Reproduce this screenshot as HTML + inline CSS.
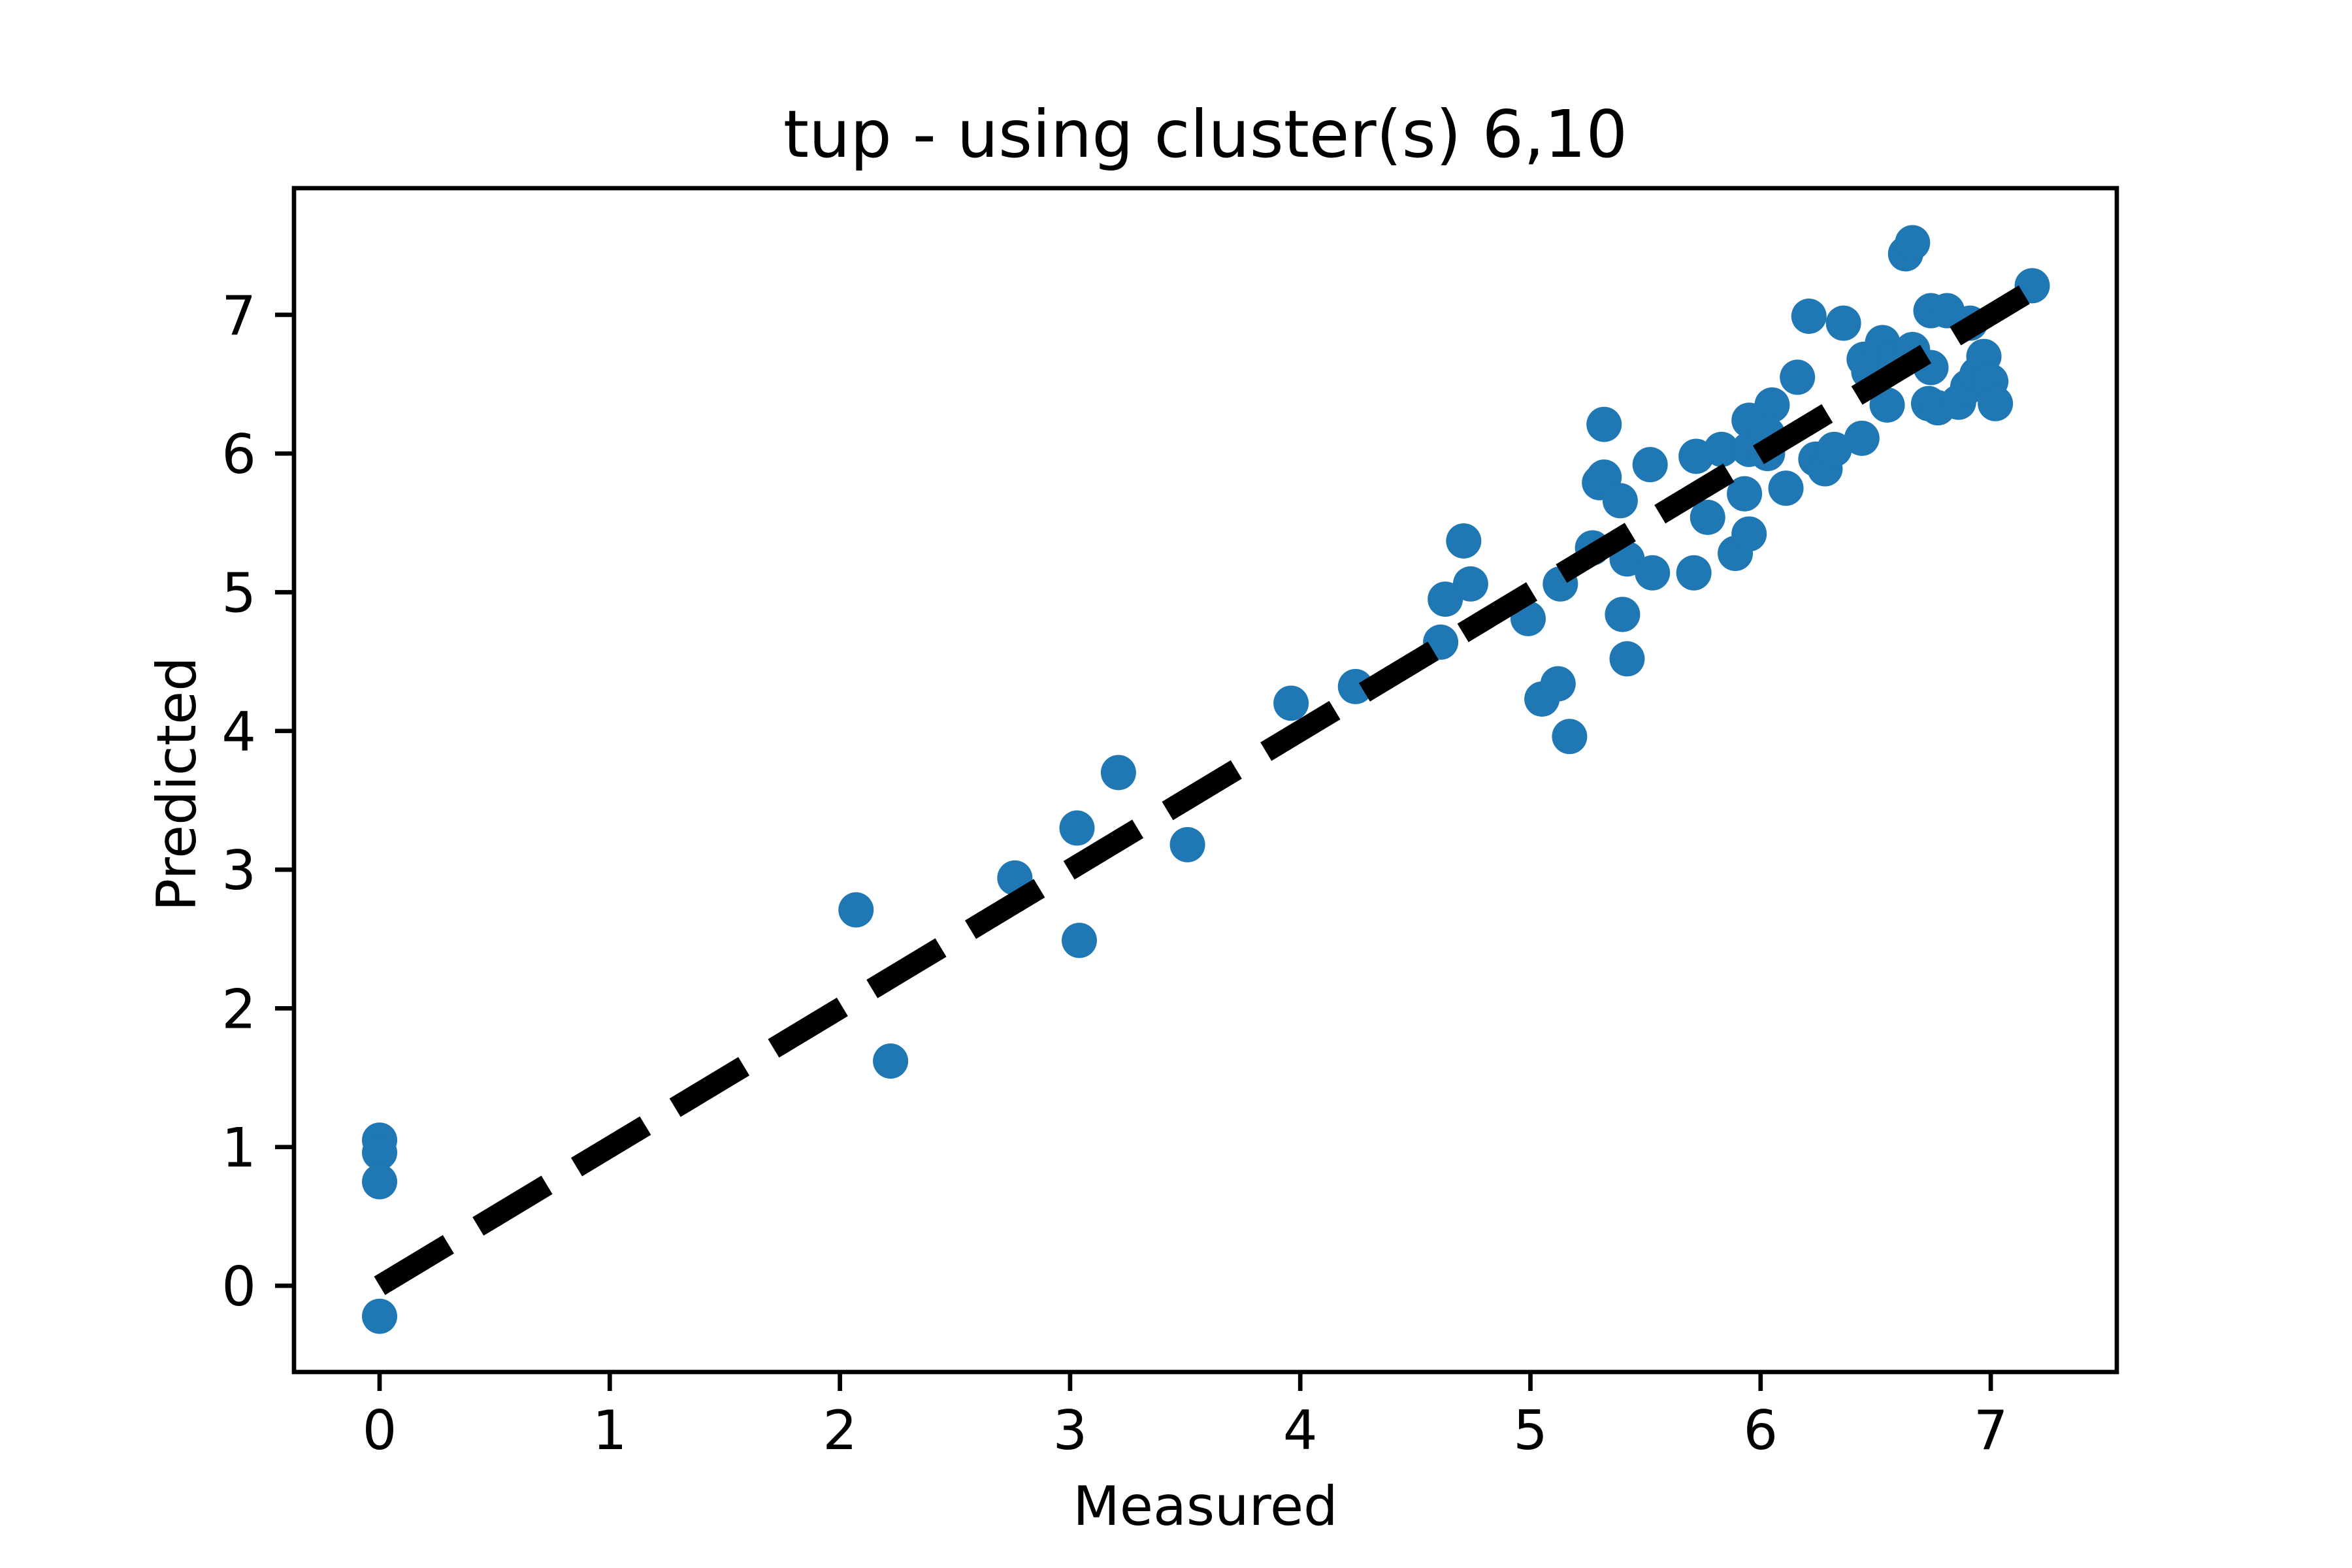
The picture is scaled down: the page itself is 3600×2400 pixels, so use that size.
<!DOCTYPE html>
<html><head><meta charset="utf-8"><style>
html,body{margin:0;padding:0;background:#fff}
svg{display:block}
text{font-family:"DejaVu Sans","Liberation Sans",sans-serif;fill:#000}
</style></head><body>
<svg id="chart" width="3600" height="2400" viewBox="0 0 3600 2400" xmlns="http://www.w3.org/2000/svg">
<rect x="0" y="0" width="3600" height="2400" fill="#fff"/>
<text x="1845" y="240" font-size="100" text-anchor="middle">tup - using cluster(s) 6,10</text>
<g id="plot"></g>
<g id="axes"></g>
<text x="1845" y="2334" font-size="83" text-anchor="middle">Measured</text>
<text x="0" y="0" font-size="83" text-anchor="middle" transform="translate(299,1200) rotate(-90)">Predicted</text>
</svg>
<script>
const measured = [0,0,0,0,2.07,2.22,2.76,3.03,3.04,3.21,3.51,3.96,4.24,4.61,4.63,4.71,4.74,4.99,5.05,5.12,5.13,5.17,5.27,5.30,5.32,5.32,5.39,5.40,5.42,5.42,5.53,5.52,5.71,5.72,5.77,5.83,5.89,5.93,5.95,5.95,5.95,6.03,6.05,6.03,6.11,6.16,6.21,6.24,6.28,6.32,6.36,6.44,6.45,6.47,6.53,6.55,6.58,6.63,6.66,6.66,6.74,6.74,6.73,6.77,6.81,6.86,6.90,6.91,6.94,6.97,7.00,7.02,7.18];
const predicted = [1.05,0.96,0.75,-0.22,2.71,1.62,2.94,3.30,2.49,3.70,3.18,4.20,4.32,4.64,4.95,5.37,5.06,4.81,4.23,4.34,5.06,3.96,5.32,5.79,5.83,6.21,5.66,4.84,5.24,4.52,5.14,5.92,5.14,5.98,5.54,6.03,5.28,5.71,5.42,6.24,6.03,6.00,6.35,6.14,5.75,6.55,6.99,5.96,5.89,6.03,6.94,6.11,6.68,6.59,6.80,6.35,6.68,7.44,7.52,6.75,7.03,6.62,6.36,6.33,7.03,6.37,6.48,6.94,6.57,6.70,6.52,6.36,7.21];
const xTicks = [0,1,2,3,4,5,6,7];
const yTicks = [0,1,2,3,4,5,6,7];
const lineStart = 0;
const lineEnd = 7.18;

const NS = "http://www.w3.org/2000/svg";
const L = 450, R = 3240, T = 288, B = 2100;
function xs(v){ return 581 + v * 352.3; }
function ys(v){ return 1968 - v * 212.3; }
function mk(tag, attrs, parent){
  const e = document.createElementNS(NS, tag);
  for (const k in attrs) e.setAttribute(k, attrs[k]);
  parent.appendChild(e);
  return e;
}
const plot = document.getElementById('plot');
const axes = document.getElementById('axes');

for (let i = 0; i < measured.length; i++){
  const c = mk('circle', {cx: xs(measured[i]), cy: ys(predicted[i]), r: 27, fill: '#1f77b4'}, plot);
  
  
}
const ln = mk('line', {x1: xs(lineStart), y1: ys(lineStart), x2: xs(lineEnd), y2: ys(lineEnd), stroke: '#000', 'stroke-width': 33, 'stroke-dasharray': '123 53', 'stroke-linecap': 'butt'}, plot);



const frame = mk('rect', {x: L, y: T, width: R - L, height: B - T, fill: 'none', stroke: '#000', 'stroke-width': 6.7}, axes);



xTicks.forEach(v => {
  const x = xs(v);
  const t = mk('line', {x1: x, y1: B, x2: x, y2: B + 29, stroke: '#000', 'stroke-width': 6.7}, axes);
  
  
  const lb = mk('text', {x: x, y: B + 118, 'font-size': 83, 'text-anchor': 'middle'}, axes);
  lb.textContent = String(v);
  
  
});
yTicks.forEach(v => {
  const y = ys(v);
  const t = mk('line', {x1: L - 29, y1: y, x2: L, y2: y, stroke: '#000', 'stroke-width': 6.7}, axes);
  
  
  const lb = mk('text', {x: 392, y: y + 30, 'font-size': 83, 'text-anchor': 'end'}, axes);
  lb.textContent = String(v);
  
  
});
</script>
</body></html>
